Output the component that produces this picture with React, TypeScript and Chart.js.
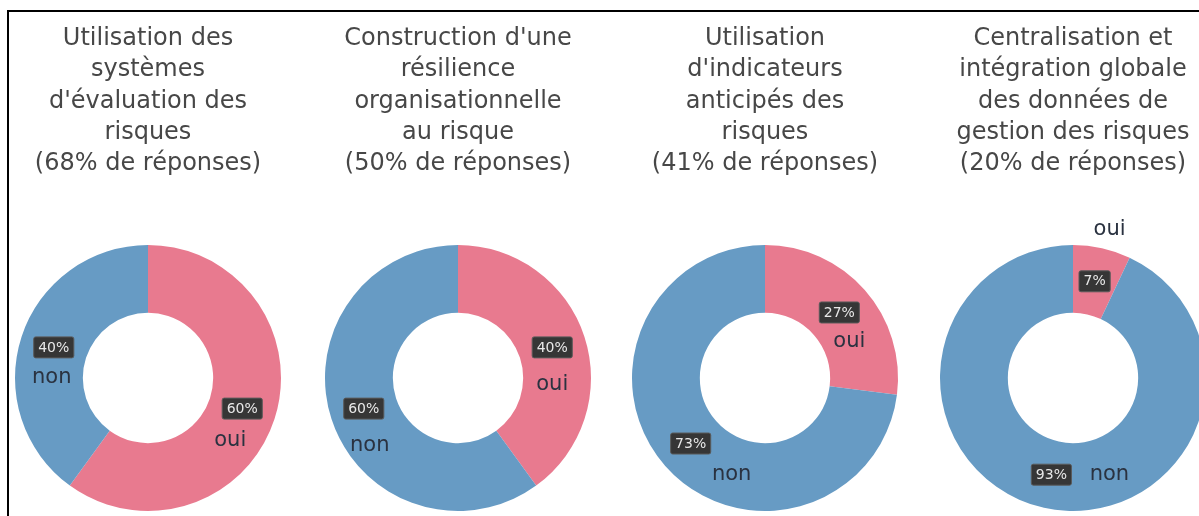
import React, { useEffect, useRef } from 'react';
import { Chart, registerables } from 'chart.js';

Chart.register(...registerables);

// ---- data ----
const categories = ['oui', 'non'];
const titles: string[][] = [
  ['Utilisation des', 'systèmes', "d'évaluation des", 'risques', '(68% de réponses)'],
  ["Construction d'une", 'résilience', 'organisationnelle', 'au risque', '(50% de réponses)'],
  ['Utilisation', "d'indicateurs", 'anticipés des', 'risques', '(41% de réponses)'],
  ['Centralisation et', 'intégration globale', 'des données de', 'gestion des risques', '(20% de réponses)'],
];
const ouiValues = [60, 40, 27, 7];
const nonValues = [40, 60, 73, 93];

// ---- style / layout ----
const colors = ['#E87A8F', '#679BC4'];
// offsets of the category label relative to the percentage box, [oui, non]
const labelOffsets: number[][][] = [
  [[-12, 32], [-2, 30]],
  [[0, 37], [6, 37]],
  [[10, 29], [41, 31]],
  [[15, -52], [58, 0]],
];
const chartLefts = [-11.5, 298.5, 606, 914];
const CW = 300;
const CH = 504;

const labelPlugin = {
  id: 'segLabels',
  afterDatasetsDraw(chart: any, _args: any, opts: any) {
    const ctx = chart.ctx;
    const meta = chart.getDatasetMeta(0);
    const ds = chart.data.datasets[0];
    const offs = opts.offsets || [];
    meta.data.forEach((arc: any, i: number) => {
      const { x, y } = arc.getCenterPoint();
      const txt = ds.data[i] + '%';
      ctx.save();
      ctx.font = '14px "DejaVu Sans"';
      const w = ctx.measureText(txt).width + 9;
      const h = 21;
      ctx.fillStyle = '#363636';
      ctx.strokeStyle = '#5a5a5a';
      ctx.lineWidth = 1;
      ctx.beginPath();
      (ctx as any).roundRect(x - w / 2, y - h / 2, w, h, 2);
      ctx.fill();
      ctx.stroke();
      ctx.fillStyle = '#e8e8e8';
      ctx.textAlign = 'center';
      ctx.textBaseline = 'middle';
      ctx.fillText(txt, x, y + 0.5);
      const o = offs[i] || [0, 30];
      ctx.font = '21px "DejaVu Sans"';
      ctx.fillStyle = '#2a3240';
      ctx.fillText(chart.data.labels[i], x + o[0], y + o[1]);
      ctx.restore();
    });
  },
};

function Donut({ idx }: { idx: number }) {
  const ref = useRef<HTMLCanvasElement>(null);
  useEffect(() => {
    if (!ref.current) return;
    const chart = new Chart(ref.current, {
      type: 'doughnut',
      data: {
        labels: categories,
        datasets: [
          {
            data: [ouiValues[idx], nonValues[idx]],
            backgroundColor: colors,
            borderWidth: 0,
          },
        ],
      },
      options: {
        animation: false,
        responsive: false,
        cutout: '49%',
        layout: { padding: { bottom: 5 } },
        plugins: {
          legend: { display: false },
          tooltip: { enabled: false },
          title: {
            display: true,
            text: titles[idx],
            color: '#474747',
            font: { family: '"DejaVu Sans"', size: 24, lineHeight: 1.3, weight: 'normal' },
            padding: { top: 11.4, bottom: 65.6 },
          },
          segLabels: { offsets: labelOffsets[idx] },
        } as any,
      },
      plugins: [labelPlugin],
    });
    return () => chart.destroy();
  }, [idx]);
  return (
    <canvas
      ref={ref}
      width={CW}
      height={CH}
      style={{ position: 'absolute', left: chartLefts[idx], top: 0, width: CW, height: CH }}
    />
  );
}

export default function App() {
  return (
    <div
      style={{
        position: 'fixed',
        left: 7,
        top: 10,
        width: 1192,
        height: 506,
        borderTop: '2px solid #000',
        borderLeft: '2px solid #000',
        boxSizing: 'border-box',
        overflow: 'hidden',
        background: '#fff',
      }}
    >
      {[0, 1, 2, 3].map((i) => (
        <Donut key={i} idx={i} />
      ))}
    </div>
  );
}
